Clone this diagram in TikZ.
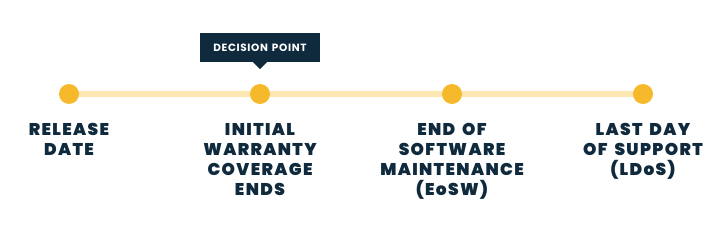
\documentclass[tikz,border=0pt]{standalone}
\usepackage{fontspec}
\setmainfont{Poppins}[BoldFont={Poppins Black}]
\newfontfamily\lblfont{Poppins Black}[LetterSpace=8,WordSpace=1.6]
\newfontfamily\tagfont{Poppins Bold}[LetterSpace=6,WordSpace=1.4]
\definecolor{navy}{HTML}{0F2A3C}
\definecolor{gold}{HTML}{F6B92B}
\definecolor{pale}{HTML}{FCE6B2}
\begin{document}
\begin{tikzpicture}[x=1pt,y=-1pt,
  dot/.style={circle,fill=gold,minimum size=20pt,inner sep=0pt},
  lbl/.style={anchor=north,align=center,text=navy,font=\fontsize{17}{20}\selectfont\lblfont},
  tag/.style={fill=navy,text=white,font=\fontsize{10.5}{12}\selectfont\tagfont,minimum width=120pt,minimum height=29pt,inner sep=0pt}]
\useasboundingbox (0,0) rectangle (710,225);
\coordinate (p1) at (69,94);
\coordinate (p4) at (643,94);
\draw[pale,line width=6pt] (p1) -- (p4);
\node[dot] (d1) at (p1) {};
\node[dot] (d2) at (260,94) {};
\node[dot] (d3) at (452,94) {};
\node[dot] (d4) at (p4) {};
\node[tag] (t) at (260,47.5) {DECISION POINT};
\fill[navy] ([xshift=-7pt]t.south) -- ([xshift=7pt]t.south) -- ([yshift=-7pt]t.south) -- cycle;
\node[lbl] (l1) at (69,120) {RELEASE\\DATE};
\node[lbl] (l2) at (260,120) {INITIAL\\WARRANTY\\COVERAGE\\ENDS};
\node[lbl] (l3) at (452,120) {END OF\\SOFTWARE\\MAINTENANCE\\(EoSW)};
\node[lbl] (l4) at (643,120) {LAST DAY\\OF SUPPORT\\(LDoS)};
\end{tikzpicture}
\end{document}
